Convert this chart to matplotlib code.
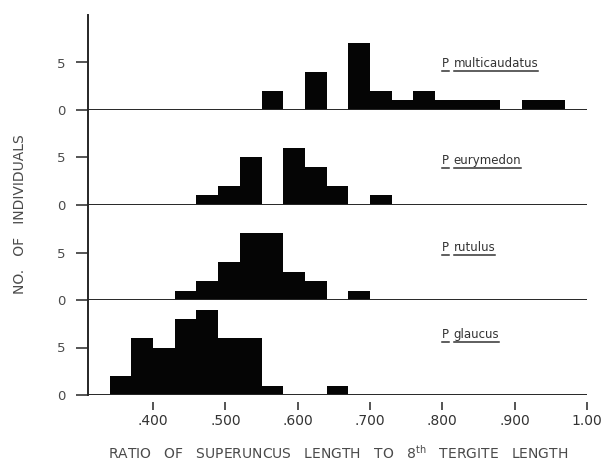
import numpy as np
import matplotlib
matplotlib.use("Agg")
import matplotlib.pyplot as plt
from matplotlib.lines import Line2D

# ---- data ----
bin_left = [0.34, 0.37, 0.40, 0.43, 0.46, 0.49, 0.52, 0.55, 0.58, 0.61, 0.64,
            0.67, 0.70, 0.73, 0.76, 0.79, 0.82, 0.85, 0.88, 0.91, 0.94]
bin_width = 0.03
species = ["multicaudatus", "eurymedon", "rutulus", "glaucus"]
multicaudatus = [0, 0, 0, 0, 0, 0, 0, 2, 0, 4, 0, 7, 2, 1, 2, 1, 1, 1, 0, 1, 1]
eurymedon     = [0, 0, 0, 0, 1, 2, 5, 0, 6, 4, 2, 0, 1, 0, 0, 0, 0, 0, 0, 0, 0]
rutulus       = [0, 0, 0, 1, 2, 4, 7, 7, 3, 2, 0, 1, 0, 0, 0, 0, 0, 0, 0, 0, 0]
glaucus       = [2, 6, 5, 8, 9, 6, 6, 1, 0, 0, 1, 0, 0, 0, 0, 0, 0, 0, 0, 0, 0]
counts = [multicaudatus, eurymedon, rutulus, glaucus]
label_y = [4.9, 4.7, 5.5, 6.4]
xticks = [0.4, 0.5, 0.6, 0.7, 0.8, 0.9, 1.0]
xticklabels = [".400", ".500", ".600", ".700", ".800", ".900", "1.00"]
yticks = [0, 5]

LINE = "#262626"
TXT = "#4a4a4a"

plt.rcParams['font.family'] = ['DejaVu Sans']
fig = plt.figure(figsize=(6.13, 4.61), dpi=100)

left, width = 88 / 613, (587 - 88) / 613
ph = 95 / 461
b0 = (461 - 395) / 461

edges = list(bin_left) + [bin_left[-1] + bin_width]

axes = []
for i, (name, c) in enumerate(zip(species, counts)):
    bottom = b0 + (3 - i) * ph
    ax = fig.add_axes([left, bottom, width, ph])
    axes.append(ax)
    ax.stairs(c, edges, fill=True, color='#050505', linewidth=0, zorder=2)
    ax.set_xlim(0.31, 1.0)
    ax.set_ylim(0, 10)
    ax.axhline(0, color=LINE, lw=1.4, zorder=3)
    for s in ['top', 'right']:
        ax.spines[s].set_visible(False)
    ax.spines['left'].set_color(LINE)
    ax.spines['left'].set_linewidth(1.4)
    ax.spines['bottom'].set_position(('outward', 5))
    ax.spines['bottom'].set_color('none')
    ax.set_yticks(yticks)
    ax.tick_params(axis='y', length=9, width=1.1, color=LINE, pad=7,
                   labelsize=9.5, labelcolor=TXT)
    ax.set_facecolor('none')
    if i < 3:
        ax.set_xticks([])
    else:
        ax.set_xticks(xticks)
        ax.set_xticklabels(xticklabels)
        ax.tick_params(axis='x', length=6, width=1.1, color=LINE, pad=3,
                       labelsize=10, labelcolor='#333333')
    tp = ax.text(0.80, label_y[i], "P", fontsize=8.5, color='#333333',
                 va='center', ha='left')
    tn = ax.annotate(name, xy=(1, 0), xycoords=tp, xytext=(3, 0),
                     textcoords='offset points', fontsize=8.5,
                     color='#333333', va='bottom', ha='left')
    ax._ul = (tp, tn)

fig.text(0.551, 0.0174,
         r"RATIO   OF   SUPERUNCUS   LENGTH   TO   8$^{\mathrm{th}}$   TERGITE   LENGTH",
         ha='center', va='center', fontsize=10, color=TXT)
fig.text(0.033, 0.536, "NO.   OF   INDIVIDUALS", rotation=90, ha='center',
         va='center', fontsize=10, color=TXT)

fig.canvas.draw()
r = fig.canvas.get_renderer()
for ax in axes:
    for t in ax._ul:
        bb = t.get_window_extent(r)
        y = bb.y0 - 1
        ln = Line2D([bb.x0, bb.x1], [y, y], transform=None, color='#333333',
                    lw=1.1)
        fig.add_artist(ln)

fig.savefig("out.png", dpi=100, facecolor='white')
